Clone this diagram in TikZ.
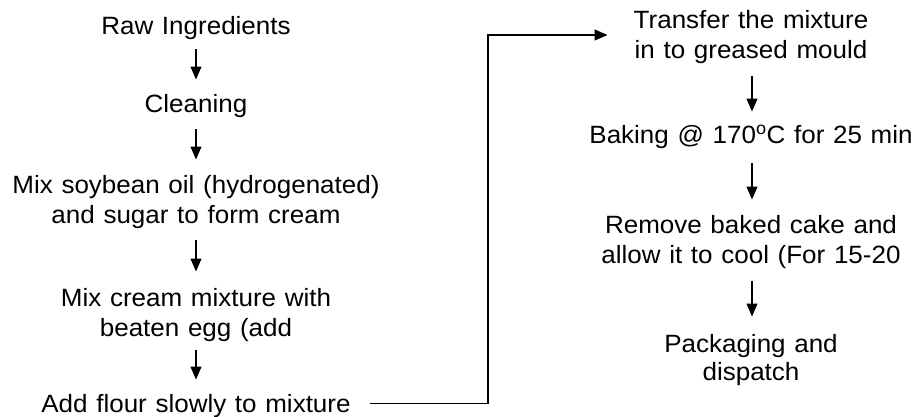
\documentclass[tikz,border=0pt]{standalone}
\usepackage{fontspec}
\setmainfont{Liberation Sans}[FakeStretch=1.04, WordSpace=1.2]
\usetikzlibrary{arrows.meta}
\begin{document}
\begin{tikzpicture}[x=1pt,y=-1pt,
  lbl/.style={anchor=north, inner sep=0pt, align=center, font=\fontsize{25}{30}\selectfont},
  arr/.style={line width=1.1pt, -{Triangle[length=13pt,width=11pt]}}]
\useasboundingbox (0,0) rectangle (915,416);
% left column
\node[lbl] (n1) at (196,16) {Raw Ingredients};
\node[lbl] (n2) at (196,94) {Cleaning};
\node[lbl] (n3) at (196,175) {Mix soybean oil (hydrogenated)\\and sugar to form cream};
\node[lbl] (n4) at (196,288) {Mix cream mixture with\\beaten egg (add};
\node[lbl] (n5) at (196,394) {Add flour slowly to mixture};
% right column
\node[lbl] (n6) at (751,10) {Transfer the mixture\\in to greased mould};
\node[lbl] (n7) at (751,125) {Baking @ 170\textsuperscript{o}C for 25 min};
\node[lbl] (n8) at (751,215) {Remove baked cake and\\allow it to cool (For 15-20};
\node[lbl,font=\fontsize{25}{28}\selectfont] (n9) at (751,334) {Packaging and\\dispatch};
% arrows
\draw[arr] ([yshift=-9pt]n1.south) -- ([yshift=14.5pt]n2.north);
\draw[arr] ([yshift=-11pt]n2.south) -- ([yshift=15.5pt]n3.north);
\draw[arr] ([yshift=-11pt]n3.south) -- ([yshift=16.5pt]n4.north);
\draw[arr] ([yshift=-8pt]n4.south) -- ([yshift=14.5pt]n5.north);
\draw[arr] ([xshift=1pt,yshift=-12pt]n6.south) -- ([xshift=1pt,yshift=13.5pt]n7.north);
\draw[arr] ([xshift=1pt,yshift=-14pt]n7.south) -- ([xshift=1pt,yshift=15.5pt]n8.north);
\draw[arr] ([xshift=1pt,yshift=-12pt]n8.south) -- ([xshift=1pt,yshift=17.5pt]n9.north);
% connector
\coordinate (up) at (488,35);
\draw[arr] ([xshift=19pt,yshift=2.5pt]n5.east) -| (up) -- ([xshift=-26pt]n6.west |- up);
\end{tikzpicture}
\end{document}
